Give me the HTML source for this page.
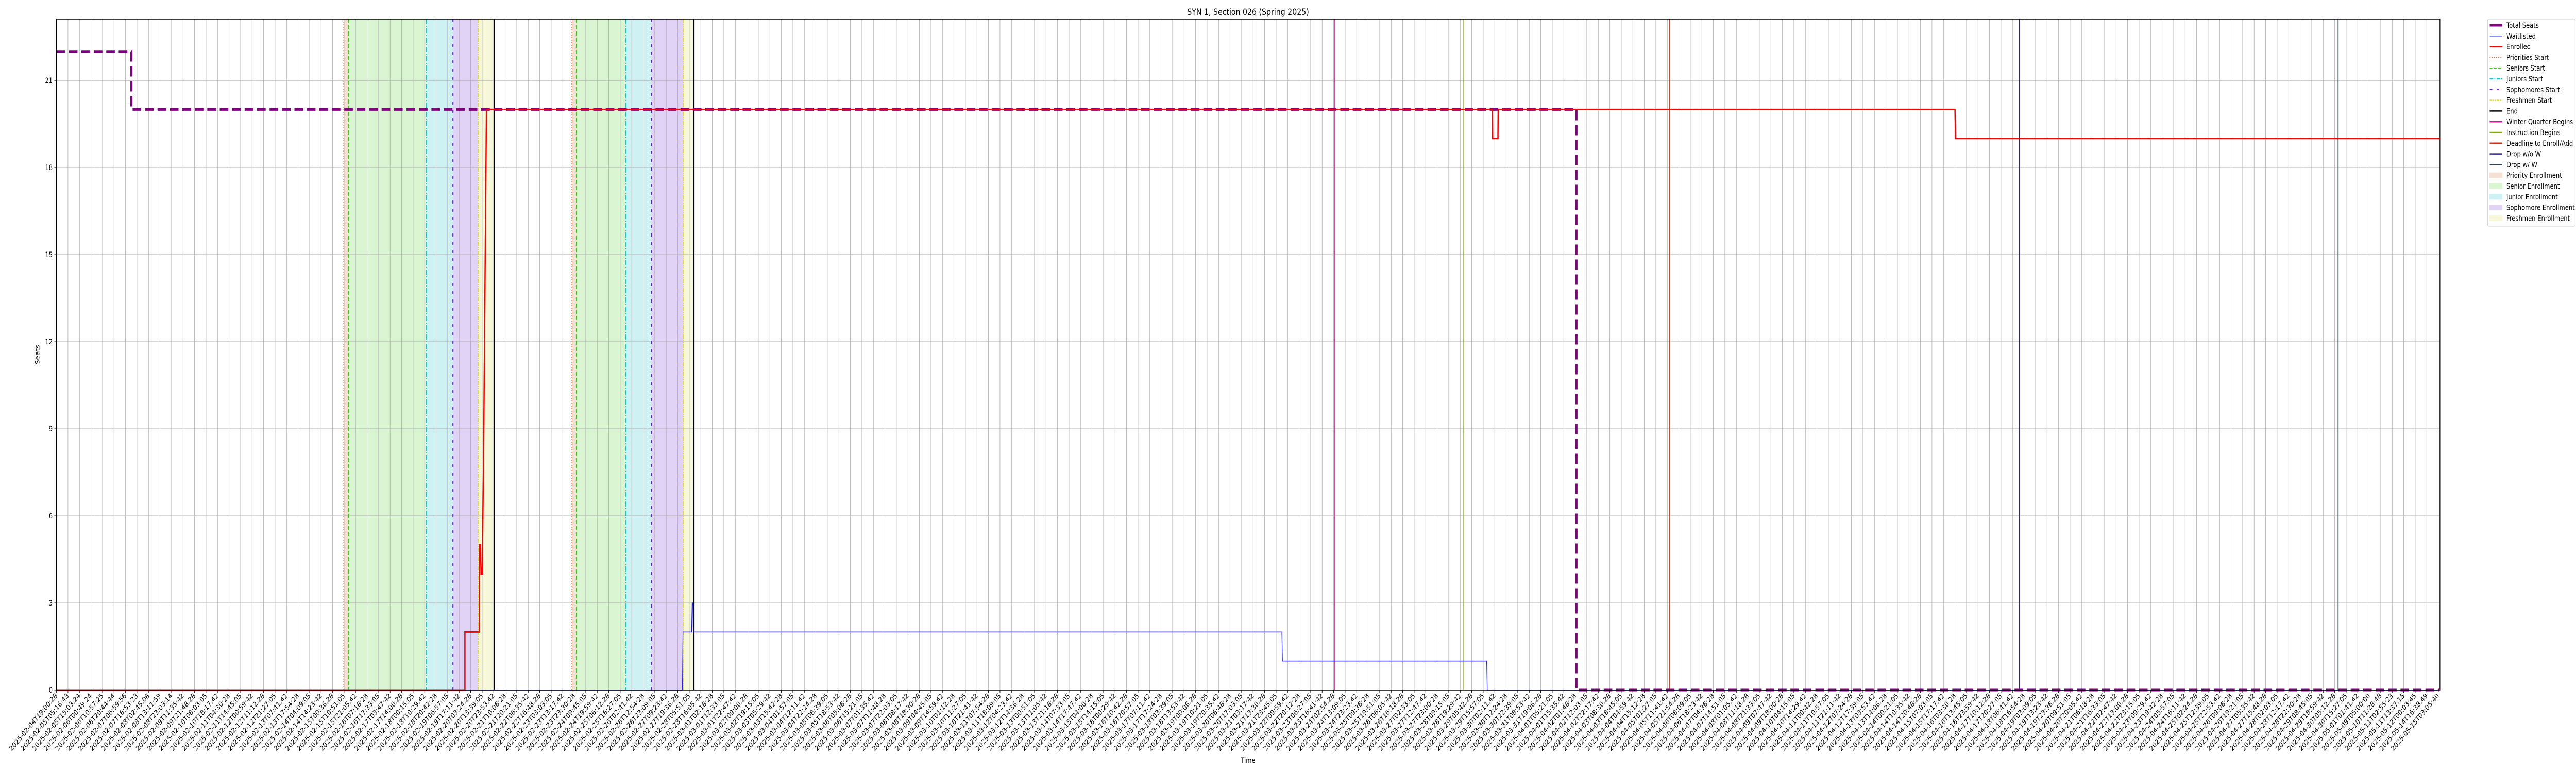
<!DOCTYPE html>
<html><head><meta charset="utf-8">
<style>
html,body{margin:0;padding:0;background:#fff;width:100%;height:100%;overflow:hidden;}
svg{display:block;position:fixed;left:0;top:0;width:100vw;height:100vh;font-family:"DejaVu Sans","Liberation Sans",sans-serif;}
</style></head>
<body>
<svg id="chart" viewBox="0 0 6000 1500" preserveAspectRatio="none" xmlns="http://www.w3.org/2000/svg" overflow="hidden">
<rect x="0" y="0" width="6000" height="1500" fill="#fff"/>
<g id="spans"></g>
<g id="grid"></g>
<g id="vlines"></g>
<g id="series"></g>
<g id="axes"></g>
<text x="2907" y="29" text-anchor="middle" font-size="17" fill="#000">SYN 1, Section 026 (Spring 2025)</text>
<text x="2907" y="1480" text-anchor="middle" font-size="13.9" fill="#000">Time</text>
<text transform="translate(92,688) rotate(-90)" text-anchor="middle" font-size="13.9" fill="#000">Seats</text>
<g id="legend"></g>
</svg>
<script>
// ---- data (x in tick-index units, y in seats) ----
const totalX = [0, 6.5, 6.5, 132.1, 132.1, 207.1];
const totalY = [22, 22, 20, 20, 0, 0];
const enrolledX = [0, 35.5, 35.5, 36.74, 36.78, 36.86, 36.9, 37.0, 37.12, 37.37, 124.8, 124.82, 125.28, 125.3, 165.0, 165.05, 207.1];
const enrolledY = [0, 0, 2, 2, 5, 5, 4, 4, 8, 20, 20, 19, 19, 20, 20, 19, 19];
const waitX = [0, 54.4, 54.45, 55.2, 55.25, 55.3, 55.35, 106.5, 106.55, 124.3, 124.35, 207.1];
const waitY = [0, 0, 2, 2, 3, 3, 2, 2, 1, 1, 0, 0];
const spanStarts = [24.97, 25.36, 32.15, 34.46, 36.66, 44.8, 45.2, 49.5, 51.7, 54.5];
const spanEnds   = [25.36, 32.15, 34.46, 36.66, 38.04, 45.2, 49.5, 51.7, 54.5, 55.4];
const spanKinds  = ['priority','senior','junior','sophomore','freshmen','priority','senior','junior','sophomore','freshmen'];
const eventX     = [24.97, 25.36, 32.15, 34.46, 36.66, 38.04, 44.8, 45.2, 49.5, 51.7, 54.5, 55.4, 111.1, 122.3, 140.2, 170.6, 198.3];
const eventKinds = ['priorities','seniors','juniors','sophomores','freshmen','end','priorities','seniors','juniors','sophomores','freshmen','end','winter','instruction','deadline','dropwo','dropw'];
const yTicks = [0, 3, 6, 9, 12, 15, 18, 21];
// tick labels (timestamps, approximately 10h apart)
const tickStart = Date.UTC(2025,1,4,19,0,28);
const tickLabels = [];
for (let i = 0; i < 208; i++) {
  let t = tickStart + i * (10*3600+14*60)*1000 + (i%3)*37000;
  if (i >= 201) t = Date.UTC(2025,4,9,5,0,0) + (i-201)*1.27*86400000;
  tickLabels.push(new Date(t).toISOString().slice(0,19));
}
tickLabels[207] = '2025-05-15T03:05:40';
tickLabels[206] = '2025-05-14T16:38:49';
tickLabels[205] = '2025-05-12T00:03:45';
tickLabels[204] = '2025-05-11T13:37:15';
tickLabels[203] = '2025-05-11T02:55:23';
tickLabels.splice(0, 11, '2025-02-04T19:00:28','2025-02-05T05:16:43','2025-02-05T15:03:24','2025-02-06T00:49:24','2025-02-06T10:57:25','2025-02-06T20:44:44','2025-02-07T06:59:56','2025-02-07T16:53:23','2025-02-08T02:45:08','2025-02-08T13:11:59','2025-02-08T23:03:14');

// ---- geometry ----
const L = 131.5, R = 5683, T = 37, B = 1339, STEP = 26.8, YU = 56.33;
const X = v => L + v * STEP;
const Y = v => B - v * YU;
const NS = 'http://www.w3.org/2000/svg';
function mk(tag, attrs, parent) {
  const e = document.createElementNS(NS, tag);
  for (const k in attrs) e.setAttribute(k, attrs[k]);
  parent.appendChild(e);
  return e;
}
const spanColors = {priority:'#f6e0d4', senior:'#daf5d2', junior:'#cef1f3', sophomore:'#e1d3f5', freshmen:'#f7f8da'};
const evStyle = {
  priorities:{c:'#e8743b',w:2,d:'2,3'}, seniors:{c:'#33cc11',w:2.5,d:'8,4'},
  juniors:{c:'#11c5d4',w:2.5,d:'10,3,2,3'}, sophomores:{c:'#6a22dd',w:2.5,d:'6,10'},
  freshmen:{c:'#dede22',w:2.5,d:'8,2,2,2,2,2'}, end:{c:'#000',w:3,d:''},
  winter:{c:'#dd1199',w:1.5,d:''}, instruction:{c:'#88aa11',w:1.5,d:''},
  deadline:{c:'#cc3311',w:1.5,d:''}, dropwo:{c:'#332288',w:2,d:''}, dropw:{c:'#334455',w:2,d:''}
};
const gSp = document.getElementById('spans');
spanStarts.forEach((s,i)=>{
  const r = mk('rect',{x:X(s),y:T,width:X(spanEnds[i])-X(s),height:B-T,fill:spanColors[spanKinds[i]]},gSp);
  
  
});
const gG = document.getElementById('grid');
const gA = document.getElementById('axes');
for (let i = 0; i < tickLabels.length; i++) {
  const x = X(i);
  const gl = mk('line',{x1:x,y1:T,x2:x,y2:B,stroke:'#b0b0b0','stroke-width':1},gG);
  
  
  mk('line',{x1:x,y1:B,x2:x,y2:B+5,stroke:'#000','stroke-width':1},gA);
  const t = mk('text',{transform:`translate(${x+3},${B+12}) rotate(-45)`,'text-anchor':'end','font-size':13.9,fill:'#000'},gA);
  t.textContent = tickLabels[i];
  
  
}
yTicks.forEach(v=>{
  const y = Y(v);
  const gl = mk('line',{x1:L,y1:y,x2:R,y2:y,stroke:'#b0b0b0','stroke-width':1},gG);
  
  
  mk('line',{x1:L-5,y1:y,x2:L,y2:y,stroke:'#000','stroke-width':1},gA);
  const t = mk('text',{x:L-9,y:y+5,'text-anchor':'end','font-size':13.9,fill:'#000'},gA);
  t.textContent = v;
  
  
});
const gV = document.getElementById('vlines');
eventX.forEach((v,i)=>{
  const s = evStyle[eventKinds[i]];
  const l = mk('line',{x1:X(v),y1:T,x2:X(v),y2:B,stroke:s.c,'stroke-width':s.w},gV);
  if (s.d) l.setAttribute('stroke-dasharray', s.d);
  
  
});
const gS = document.getElementById('series');
function pts(xs, ys){ return xs.map((x,i)=>X(x)+','+Y(ys[i])).join(' '); }
const wl = mk('polyline',{points:pts(waitX,waitY),fill:'none',stroke:'#1a1aff','stroke-width':1.5},gS);


const tl = mk('polyline',{points:pts(totalX,totalY),fill:'none',stroke:'#800080','stroke-width':5,'stroke-dasharray':'20,9'},gS);


const el = mk('polyline',{points:pts(enrolledX,enrolledY),fill:'none',stroke:'#ff0000','stroke-width':3},gS);


const frame = mk('rect',{x:L,y:T,width:R-L,height:B-T,fill:'none',stroke:'#000','stroke-width':1.5},gA);



// ---- legend ----
const gL = document.getElementById('legend');
const lb = mk('rect',{x:5794,y:37,width:204,height:402,rx:3,fill:'#fff',stroke:'#d0d0d0','stroke-width':1},gL);


const legNames = ['Total Seats','Waitlisted','Enrolled','Priorities Start','Seniors Start','Juniors Start','Sophomores Start','Freshmen Start','End','Winter Quarter Begins','Instruction Begins','Deadline to Enroll/Add','Drop w/o W','Drop w/ W','Priority Enrollment','Senior Enrollment','Junior Enrollment','Sophomore Enrollment','Freshmen Enrollment'];
const legKinds = ['line:#800080:5:','line:#1a1aff:1.5:','line:#ff0000:3:','line:#e8743b:2:2,3','line:#33cc11:2.5:6,4','line:#11c5d4:2.5:8,3,2,3','line:#6a22dd:2.5:6,10','line:#dede22:2.5:6,2,2,2,2,2','line:#000:2.5:','line:#dd1199:2.5:','line:#88aa11:2.5:','line:#cc3311:2.5:','line:#332288:2.5:','line:#334455:2.5:','rect:#f6e0d4','rect:#daf5d2','rect:#cef1f3','rect:#e1d3f5','rect:#f7f8da'];
legNames.forEach((n,i)=>{
  const y = 49 + i*20.8;
  const g = mk('g',{},gL);
  
  
  const k = legKinds[i].split(':');
  if (k[0]==='line') {
    const l = mk('line',{x1:5799,y1:y,x2:5828,y2:y,stroke:k[1],'stroke-width':k[2]},g);
    if (k[3]) l.setAttribute('stroke-dasharray', k[3]);
  } else {
    mk('rect',{x:5799,y:y-5,width:29,height:10,fill:k[1],stroke:k[1]},g);
  }
  const t = mk('text',{x:5838,y:y+5,'font-size':13.9,fill:'#000'},g);
  t.textContent = n;
});
</script>
</body></html>
